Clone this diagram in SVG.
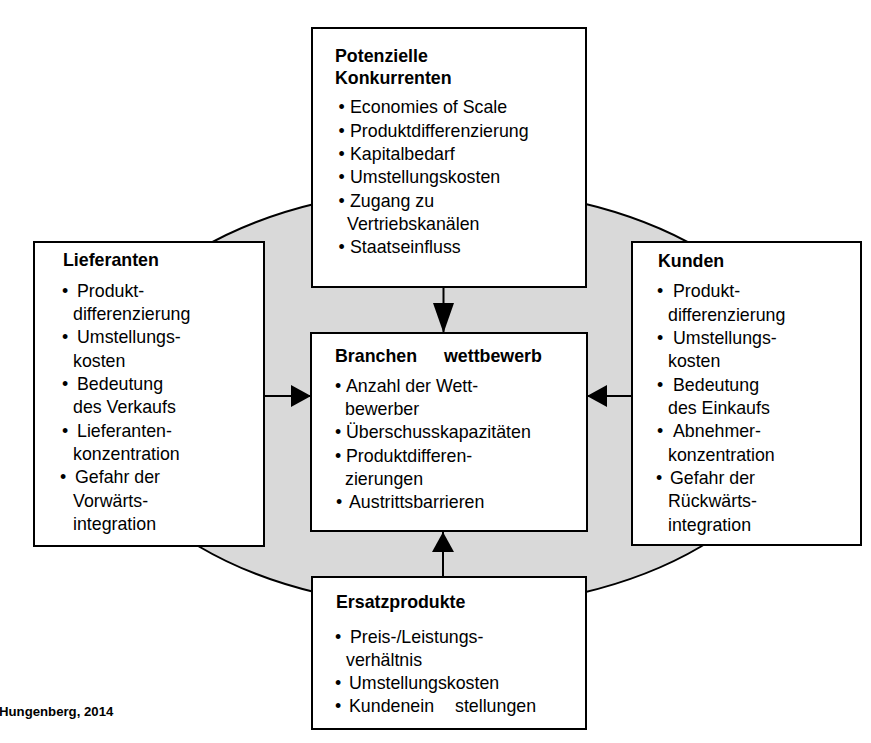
<svg xmlns="http://www.w3.org/2000/svg" width="871" height="743" viewBox="0 0 871 743">
<style>
.box{fill:#fff;stroke:#000;stroke-width:2}
.t{font-family:"Liberation Sans",Arial,sans-serif;font-size:17.8px;fill:#000}
.b{font-weight:bold}
.src{font-family:"Liberation Sans",Arial,sans-serif;font-size:13.2px;font-weight:bold;fill:#000}
.con{stroke:#000;stroke-width:2;fill:none}
</style>
<defs>
<marker id="ah" viewBox="0 0 20 22" refX="20" refY="11" markerWidth="20" markerHeight="22" markerUnits="userSpaceOnUse" orient="auto">
<path d="M0,0 L20,11 L0,22 z" fill="#000"/>
</marker>
<marker id="ahl" viewBox="0 0 30 21" refX="30" refY="10.5" markerWidth="30" markerHeight="21" markerUnits="userSpaceOnUse" orient="auto">
<path d="M0,0 L30,10.5 L0,21 z" fill="#000"/>
</marker>
</defs>
<rect width="871" height="743" fill="#fff"/>
<ellipse id="ring" cx="450" cy="398" rx="355" ry="210" fill="#d9d9d9" stroke="#000" stroke-width="2"/>
<g id="connectors">
<line class="con" x1="443.5" y1="287" x2="443.5" y2="333" marker-end="url(#ahl)"/>
<line class="con" x1="443" y1="577" x2="443" y2="532" marker-end="url(#ah)"/>
<line class="con" x1="264" y1="396" x2="311" y2="396" marker-end="url(#ah)"/>
<line class="con" x1="632" y1="396" x2="587" y2="396" marker-end="url(#ah)"/>
</g>
<g id="potenzielle-konkurrenten">
<rect class="box" x="312" y="28" width="274" height="259"/>
<text class="t b" x="335" y="62">Potenzielle</text>
<text class="t b" x="335" y="84">Konkurrenten</text>
<g class="t">
<text x="338.5" y="113">•</text><text x="350" y="113">Economies of Scale</text>
<text x="338.5" y="137">•</text><text x="350" y="137">Produktdifferenzierung</text>
<text x="338.5" y="160">•</text><text x="350" y="160">Kapitalbedarf</text>
<text x="338.5" y="183">•</text><text x="350" y="183">Umstellungskosten</text>
<text x="338.5" y="207">•</text><text x="350" y="207">Zugang zu</text>
<text x="347" y="230">Vertriebskanälen</text>
<text x="338.5" y="253">•</text><text x="350" y="253">Staatseinfluss</text>
</g>
</g>
<g id="lieferanten">
<rect class="box" x="34" y="242" width="230" height="304"/>
<text class="t b" x="63" y="266">Lieferanten</text>
<g class="t">
<text x="62" y="297">•</text><text x="77" y="297">Produkt-</text>
<text x="73" y="320">differenzierung</text>
<text x="62" y="343">•</text><text x="77" y="343">Umstellungs-</text>
<text x="73" y="367">kosten</text>
<text x="62" y="390">•</text><text x="77" y="390">Bedeutung</text>
<text x="73" y="413">des Verkaufs</text>
<text x="62" y="437">•</text><text x="77" y="437">Lieferanten-</text>
<text x="73" y="460">konzentration</text>
<text x="60" y="483">•</text><text x="75" y="483">Gefahr der</text>
<text x="73" y="507">Vorwärts-</text>
<text x="73" y="530">integration</text>
</g>
</g>
<g id="kunden">
<rect class="box" x="632" y="242" width="229" height="303"/>
<text class="t b" x="658" y="267">Kunden</text>
<g class="t">
<text x="657" y="297">•</text><text x="673" y="297">Produkt-</text>
<text x="668" y="321">differenzierung</text>
<text x="657" y="344">•</text><text x="673" y="344">Umstellungs-</text>
<text x="668" y="367">kosten</text>
<text x="657" y="391">•</text><text x="673" y="391">Bedeutung</text>
<text x="668" y="414">des Einkaufs</text>
<text x="657" y="437">•</text><text x="673" y="437">Abnehmer-</text>
<text x="668" y="461">konzentration</text>
<text x="656" y="484">•</text><text x="670" y="484">Gefahr der</text>
<text x="668" y="507">Rückwärts-</text>
<text x="668" y="531">integration</text>
</g>
</g>
<g id="branchenwettbewerb">
<rect class="box" x="311" y="333" width="276" height="198"/>
<text class="t b" y="362"><tspan x="335">Branchen</tspan><tspan x="444">wettbewerb</tspan></text>
<g class="t">
<text x="335" y="392">•</text><text x="346" y="392">Anzahl der Wett-</text>
<text x="345" y="415">bewerber</text>
<text x="335" y="438">•</text><text x="346" y="438">Überschusskapazitäten</text>
<text x="335" y="462">•</text><text x="346" y="462">Produktdifferen-</text>
<text x="345" y="485">zierungen</text>
<text x="336" y="508">•</text><text x="349" y="508">Austrittsbarrieren</text>
</g>
</g>
<g id="ersatzprodukte">
<rect class="box" x="312" y="577" width="274" height="152"/>
<text class="t b" x="336" y="608">Ersatzprodukte</text>
<g class="t">
<text x="335" y="643">•</text><text x="350" y="643">Preis-/Leistungs-</text>
<text x="346" y="666">verhältnis</text>
<text x="335" y="689">•</text><text x="349" y="689">Umstellungskosten</text>
<text x="335" y="712">•</text><text y="712"><tspan x="349">Kundenein</tspan><tspan x="455">stellungen</tspan></text>
</g>
</g>
<text class="src" x="-1" y="716">Hungenberg, 2014</text>
</svg>
